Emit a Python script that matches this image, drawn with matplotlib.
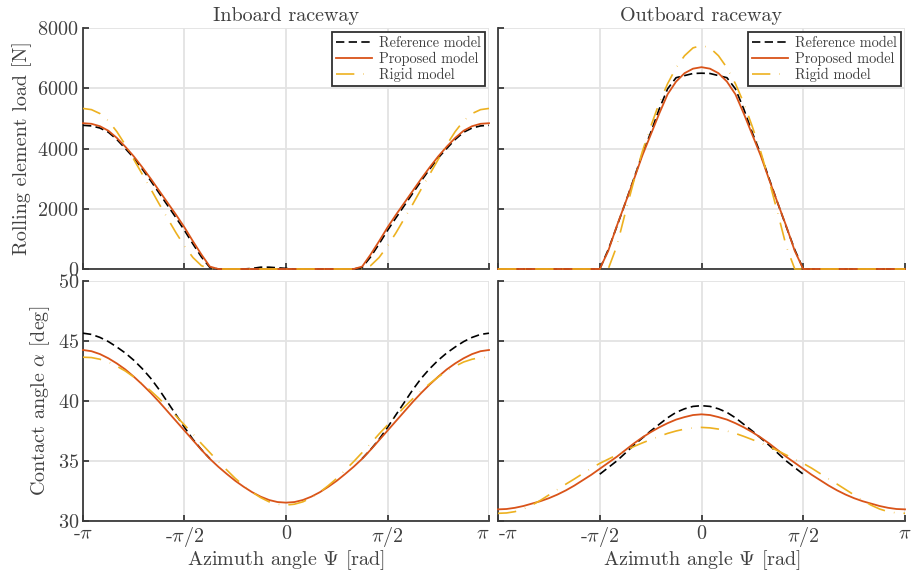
import numpy as np
import matplotlib
matplotlib.use("Agg")
import matplotlib.pyplot as plt

plt.rcParams['font.family'] = 'serif'
plt.rcParams['font.serif'] = ['cmr10']
plt.rcParams['mathtext.fontset'] = 'cm'
plt.rcParams['axes.unicode_minus'] = False
plt.rcParams['axes.formatter.use_mathtext'] = True

# azimuth samples, -pi .. pi in steps of pi/24
psi = np.linspace(-np.pi, np.pi, 49)
nan = np.nan

# ---- rolling element load [N]
in_ref_load = [4770, 4750, 4680, 4540, 4300, 4000, 3690, 3320, 2930, 2520, 2110, 1700, 1280, 830, 400, 50,
               0, 0, 0, 0, 20, 60, 60, 40, 20, 0, 0, 0, 0, 0, 0, 0, 0,
               50, 400, 830, 1280, 1700, 2110, 2520, 2930, 3320, 3690, 4000, 4300, 4540, 4680, 4750, 4770]
in_prop_load = [4840, 4820, 4740, 4590, 4350, 4060, 3740, 3380, 3000, 2600, 2200, 1800, 1380, 920, 480, 80,
                0, 0, 0, 0, 0, 0, 0, 0, 0, 0, 0, 0, 0, 0, 0, 0, 0,
                80, 480, 920, 1380, 1800, 2200, 2600, 3000, 3380, 3740, 4060, 4350, 4590, 4740, 4820, 4840]
in_rig_load = [5330, 5290, 5160, 4920, 4560, 4120, 3640, 3150, 2660, 2160, 1680, 1200, 760, 380, 110,
               0, 0, 0, 0, 0, 0, 0, 0, 0, 0, 0, 0, 0, 0, 0, 0, 0, 0, 0,
               110, 380, 760, 1200, 1680, 2160, 2660, 3150, 3640, 4120, 4560, 4920, 5160, 5290, 5330]

out_ref_load = [0, 0, 0, 0, 0, 0, 0, 0, 0, 0, 0, 0, 0,
                640, 1400, 2180, 2980, 3800, 4520, 5300, 5980, 6350, 6420, 6490, 6500,
                6490, 6420, 6350, 5980, 5300, 4520, 3800, 2980, 2180, 1400, 640,
                0, 0, 0, 0, 0, 0, 0, 0, 0, 0, 0, 0, 0]
out_prop_load = [0, 0, 0, 0, 0, 0, 0, 0, 0, 0, 0, 0, 0,
                 600, 1420, 2180, 2950, 3750, 4450, 5150, 5800, 6220, 6500, 6650, 6700,
                 6650, 6500, 6220, 5800, 5150, 4450, 3750, 2950, 2180, 1420, 600,
                 0, 0, 0, 0, 0, 0, 0, 0, 0, 0, 0, 0, 0]
out_rig_load = [0, 0, 0, 0, 0, 0, 0, 0, 0, 0, 0, 0, 0, 0,
                750, 1850, 2900, 3880, 4720, 5500, 6150, 6680, 7080, 7340, 7420,
                7340, 7080, 6680, 6150, 5500, 4720, 3880, 2900, 1850, 750,
                0, 0, 0, 0, 0, 0, 0, 0, 0, 0, 0, 0, 0, 0]

# ---- contact angle [deg]
in_ref_ang = [45.65, 45.55, 45.30, 44.95, 44.50, 44.00, 43.40, 42.70, 41.90, 40.95, 39.90, 38.85, 37.80, 36.80, 35.95, 35.20,
              nan, nan, nan, nan, nan, nan, nan, nan, nan, nan, nan, nan, nan, nan, nan, nan, nan,
              35.20, 35.95, 36.80, 37.80, 38.85, 39.90, 40.95, 41.90, 42.70, 43.40, 44.00, 44.50, 44.95, 45.30, 45.55, 45.65]
in_prop_ang = [44.25, 44.15, 43.91, 43.56, 43.13, 42.63, 42.03, 41.38, 40.68, 39.93, 39.13, 38.33, 37.53, 36.73, 35.93,
               35.18, 34.52, 33.92, 33.35, 32.85, 32.40, 32.03, 31.75, 31.58, 31.53, 31.58, 31.75, 32.03, 32.40, 32.85,
               33.35, 33.92, 34.52, 35.18, 35.93, 36.73, 37.53, 38.33, 39.13, 39.93, 40.68, 41.38, 42.03, 42.63, 43.13,
               43.56, 43.91, 44.15, 44.25]
in_rig_ang = [43.65, 43.62, 43.48, 43.25, 42.90, 42.50, 42.00, 41.45, 40.85, 40.20, 39.50, 38.75, 38.00, 37.25, 36.45,
              35.70, 34.95, 34.25, 33.55, 32.95, 32.40, 31.95, 31.60, 31.40, 31.33, 31.40, 31.60, 31.95, 32.40, 32.95,
              33.55, 34.25, 34.95, 35.70, 36.45, 37.25, 38.00, 38.75, 39.50, 40.20, 40.85, 41.45, 42.00, 42.50, 42.90,
              43.25, 43.48, 43.62, 43.65]

out_ref_ang = [nan, nan, nan, nan, nan, nan, nan, nan, nan, nan, nan, nan,
               33.90, 34.45, 35.00, 35.65, 36.30, 36.90, 37.50, 38.05, 38.60, 39.05, 39.35, 39.55, 39.61,
               39.55, 39.35, 39.05, 38.60, 38.05, 37.50, 36.90, 36.30, 35.65, 35.00, 34.45, 33.90,
               nan, nan, nan, nan, nan, nan, nan, nan, nan, nan, nan, nan]
out_prop_ang = [30.97, 31.00, 31.10, 31.25, 31.45, 31.65, 31.90, 32.20, 32.55, 32.95, 33.40, 33.85, 34.35, 34.85, 35.35,
                35.90, 36.45, 36.95, 37.40, 37.80, 38.15, 38.45, 38.66, 38.83, 38.89, 38.83, 38.66, 38.45, 38.15, 37.80,
                37.40, 36.95, 36.45, 35.90, 35.35, 34.85, 34.35, 33.85, 33.40, 32.95, 32.55, 32.20, 31.90, 31.65, 31.45,
                31.25, 31.10, 31.00, 30.97]
out_rig_ang = [30.64, 30.67, 30.78, 31.00, 31.32, 31.72, 32.17, 32.62, 33.07, 33.50, 33.95, 34.40, 34.80, 35.15, 35.50,
               35.85, 36.20, 36.50, 36.78, 37.05, 37.30, 37.50, 37.66, 37.76, 37.80, 37.76, 37.66, 37.50, 37.30, 37.05,
               36.78, 36.50, 36.20, 35.85, 35.50, 35.15, 34.80, 34.40, 33.95, 33.50, 33.07, 32.62, 32.17, 31.72, 31.32,
               31.00, 30.78, 30.67, 30.64]

xtick_pos = [-np.pi, -np.pi / 2, 0, np.pi / 2, np.pi]
xtick_lab = ['-$\\pi$', '-$\\pi$/2', '0', '$\\pi$/2', '$\\pi$']

c_ref = 'black'
c_prop = '#D95319'
c_rig = '#EDB120'
txt = '#404040'
fs = 14.5

fig = plt.figure(figsize=(9.11, 5.71), dpi=100)
W, H = 911, 571


def make_ax(x0, x1, ytop, ybot):
    return fig.add_axes([x0 / W, 1 - ybot / H, (x1 - x0) / W, (ybot - ytop) / H])


ax_il = make_ax(83, 489, 28, 269)
ax_ol = make_ax(498, 905, 28, 269)
ax_ia = make_ax(83, 489, 281, 521)
ax_oa = make_ax(498, 905, 281, 521)

panels = [
    (ax_il, in_ref_load, in_prop_load, in_rig_load),
    (ax_ol, out_ref_load, out_prop_load, out_rig_load),
    (ax_ia, in_ref_ang, in_prop_ang, in_rig_ang),
    (ax_oa, out_ref_ang, out_prop_ang, out_rig_ang),
]

for ax, ref, prop, rig in panels:
    ax.plot(psi, ref, color=c_ref, lw=1.2, linestyle=(0, (5, 2.6)), label='Reference model',
            clip_on=False, zorder=3)
    ax.plot(psi, prop, color=c_prop, lw=1.3, label='Proposed model', clip_on=False, zorder=3)
    ax.plot(psi, rig, color=c_rig, lw=1.2, linestyle=(0, (11, 5.5, 0.3, 5.5)), label='Rigid model',
            clip_on=False, zorder=3)
    ax.set_xlim(-np.pi, np.pi)
    ax.set_xticks(xtick_pos)
    ax.grid(True, color='#e3e3e3', lw=1.3)
    ax.set_axisbelow(True)
    for s in ['top', 'right']:
        ax.spines[s].set_visible(False)
    for s in ['left', 'bottom']:
        ax.spines[s].set_color('#3a3a3a')
        ax.spines[s].set_linewidth(1.3)
    ax.tick_params(direction='in', length=4, width=1.3, color='#3a3a3a',
                   labelsize=fs, labelcolor=txt, pad=3)

for ax in (ax_il, ax_ol):
    ax.set_ylim(0, 8000)
    ax.set_yticks([0, 2000, 4000, 6000, 8000])
    ax.set_xticklabels([])
    leg = ax.legend(loc='upper right', fontsize=10.3, frameon=True, fancybox=False,
                    edgecolor='#303030', framealpha=1, borderaxespad=0.3,
                    handlelength=2.5, handletextpad=0.45, borderpad=0.3, labelspacing=0.12,
                    labelcolor=txt)
    leg.get_frame().set_linewidth(1.3)

for ax in (ax_ia, ax_oa):
    ax.set_ylim(30, 50)
    ax.set_yticks([30, 35, 40, 45, 50])
    ax.set_xticklabels(xtick_lab)
    ax.set_xlabel('Azimuth angle $\\Psi$ [rad]', fontsize=fs, color=txt, labelpad=-1)

# first tick label of the right panel starts at its tick, clear of the left panel's last one
ax_oa.get_xticklabels()[0].set_horizontalalignment('left')
ax_ia.get_xticklabels()[-1].set_horizontalalignment('right')

for ax in (ax_ol, ax_oa):
    ax.set_yticklabels([])

ax_il.set_ylabel('Rolling element load [N]', fontsize=fs, color=txt, labelpad=4)
ax_ia.set_ylabel('Contact angle $\\alpha$ [deg]', fontsize=fs, color=txt, labelpad=4)
ax_il.set_title('Inboard raceway', fontsize=fs, color=txt, pad=5)
ax_ol.set_title('Outboard raceway', fontsize=fs, color=txt, pad=5)

fig.savefig('out.png', dpi=100)
